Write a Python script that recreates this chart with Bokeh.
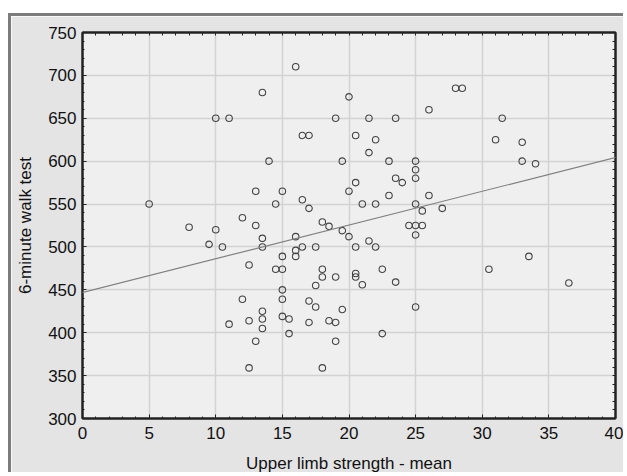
from bokeh.plotting import figure
from bokeh.models import LinearAxis, Range1d, FixedTicker, Slope
from bokeh.embed import file_html
from bokeh.resources import INLINE

# Data
strength = [16, 13.5, 10, 11, 16.5, 17, 14, 13, 15, 5, 14.5, 16.5, 17, 12, 8, 10, 13, 13.5, 16, 9.5,
            10.5, 13.5, 16, 16.5, 16, 17.5, 15, 12.5, 14.5, 15, 17.5, 15, 12, 15, 17, 17.5, 13.5, 15, 15.5, 13.5,
            12.5, 17, 11, 13.5, 15.5, 13, 12.5, 19.5, 20, 25, 20.5, 21.5, 22, 18, 18, 19, 20.5, 20.5, 21, 22.5,
            23.5, 19.5, 25, 18.5, 19, 19, 22.5, 18, 30.5, 33.5, 36.5, 28, 28.5, 20, 26, 19, 21.5, 23.5, 31.5, 20.5,
            22, 31, 33, 21.5, 19.5, 23, 25, 25, 25, 33, 34, 23.5, 24, 20.5, 20, 23, 26, 21, 22, 25,
            25.5, 27, 18, 18.5, 24.5, 25, 25.5]
walk = [710, 680, 650, 650, 630, 630, 600, 565, 565, 550, 550, 555, 545, 534, 523, 520, 525, 510, 512, 503,
        500, 500, 496, 500, 489, 500, 489, 479, 474, 474, 455, 450, 439, 439, 437, 430, 425, 419, 416, 416,
        414, 412, 410, 405, 399, 390, 359, 519, 512, 514, 500, 507, 500, 474, 465, 465, 469, 465, 456, 474,
        459, 427, 430, 414, 412, 390, 399, 359, 474, 489, 458, 685, 685, 675, 660, 650, 650, 650, 650, 630,
        625, 625, 622, 610, 600, 600, 600, 590, 580, 600, 597, 580, 575, 575, 565, 560, 560, 550, 550, 550,
        542, 545, 529, 524, 525, 525, 525]

fit_intercept = 447.0
fit_slope = 3.93

x_ticks = [0, 5, 10, 15, 20, 25, 30, 35, 40]
y_ticks = [300, 350, 400, 450, 500, 550, 600, 650, 700, 750]
x_minor = list(range(0, 41))
y_minor = list(range(300, 751, 10))

FONT = "Liberation Sans"
DARK = "#222222"

p = figure(width=615, height=459, output_backend="svg", toolbar_location=None,
           x_range=Range1d(0, 40), y_range=Range1d(300, 750),
           min_border_left=71, min_border_right=11, min_border_top=16, min_border_bottom=56,
           background_fill_color="#efefef", border_fill_color="#e4e4e4",
           x_axis_label="Upper limb strength - mean", y_axis_label="6-minute walk test")
p.margin = (13, 0, 0, 8)
p.styles = {"border-top": "3px solid #7c7c7c", "border-left": "3px solid #7c7c7c"}
p.outline_line_color = DARK
p.outline_line_width = 2

p.xaxis.ticker = FixedTicker(ticks=x_ticks, minor_ticks=x_minor)
p.yaxis.ticker = FixedTicker(ticks=y_ticks, minor_ticks=y_minor)

for ax in [p.xaxis[0], p.yaxis[0]]:
    ax.axis_line_color = DARK
    ax.axis_line_width = 2
    ax.major_tick_in = 4
    ax.major_tick_out = 0
    ax.minor_tick_in = 2
    ax.minor_tick_out = 0
    ax.major_tick_line_color = DARK
    ax.minor_tick_line_color = DARK
    ax.major_label_text_font = FONT
    ax.major_label_text_font_size = "17px"
    ax.major_label_text_color = "#111111"
    ax.axis_label_text_font = FONT
    ax.axis_label_text_font_size = "17px"
    ax.axis_label_text_font_style = "normal"
    ax.axis_label_text_color = "#111111"

p.xaxis.major_label_standoff = 8
p.yaxis.major_label_standoff = 6
p.xaxis.axis_label_standoff = 12
p.yaxis.axis_label_standoff = 10

for loc, minor in [("above", x_minor), ("right", y_minor)]:
    ax = LinearAxis(ticker=FixedTicker(ticks=[], minor_ticks=minor))
    ax.axis_line_color = DARK
    ax.axis_line_width = 2
    ax.minor_tick_in = 3
    ax.minor_tick_out = 0
    ax.minor_tick_line_color = DARK
    p.add_layout(ax, loc)

p.xgrid.ticker = FixedTicker(ticks=x_ticks)
p.ygrid.ticker = FixedTicker(ticks=y_ticks)
p.grid.grid_line_color = "#d2d2d2"
p.grid.grid_line_width = 1.5

p.add_layout(Slope(gradient=fit_slope, y_intercept=fit_intercept, line_color="#808080", line_width=1.2))

p.scatter(strength, walk, size=6.5, marker="circle", fill_color=None, line_color="#444444", line_width=1.1)

open("out.html", "w").write(file_html(p, INLINE))
